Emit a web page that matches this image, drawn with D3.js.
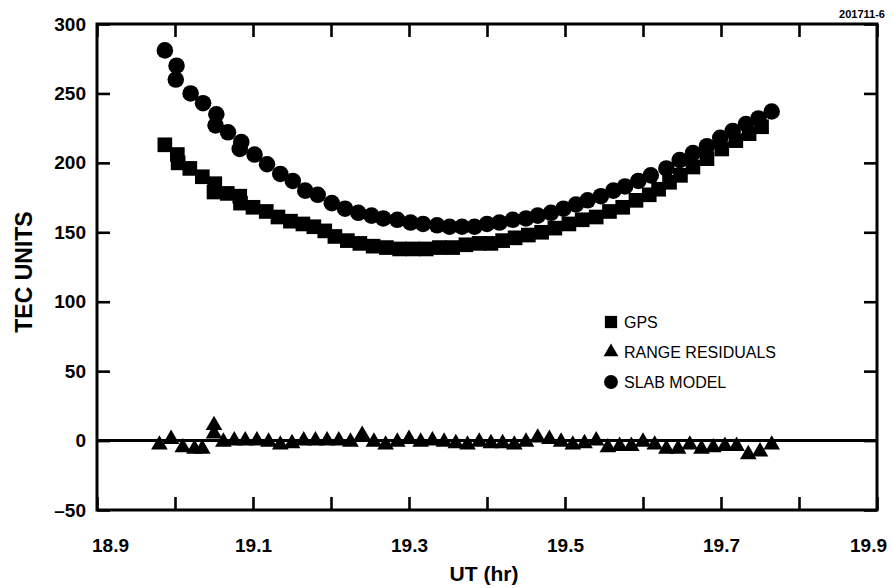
<!DOCTYPE html>
<html><head><meta charset="utf-8">
<script src="https://cdn.jsdelivr.net/npm/d3@7"></script>
<style>body{margin:0;background:#fff} svg{display:block}</style>
</head><body><svg id="c" width="894" height="588"></svg>
<script>
// ---- data ----
const xTickValues = [18.9,19.0,19.1,19.2,19.3,19.4,19.5,19.6,19.7,19.8,19.9];
const xTickLabels = ["18.9","","19.1","","19.3","","19.5","","19.7","","19.9"];
const yTickValues = [-50,0,50,100,150,200,250,300];
const yTickLabels = ["\u201350","0","50","100","150","200","250","300"];

const slabUT  = [18.987,19.002,19.001,19.020,19.036,19.053,19.052,19.068,19.085,19.083,19.102,19.118,19.135,19.151,19.167,19.183,19.201,19.218,19.235,19.252,19.267,19.285,19.302,19.318,19.336,19.352,19.368,19.384,19.400,19.416,19.433,19.450,19.465,19.482,19.498,19.514,19.529,19.546,19.562,19.577,19.594,19.610,19.630,19.647,19.664,19.682,19.699,19.715,19.732,19.748,19.765];
const slabTEC = [281,270,260,250,243,235,227,222,215,210,206,199,192,187,180,177,171,167,164,162,160,159,157,156,155,154,154,154,156,157,159,160,162,164,167,170,173,176,180,183,187,191,196,202,207,212,218,223,228,232,237];

const gpsUT  = [18.987,19.003,19.004,19.019,19.035,19.051,19.050,19.067,19.083,19.084,19.100,19.117,19.132,19.148,19.164,19.178,19.192,19.205,19.221,19.237,19.254,19.271,19.288,19.305,19.322,19.339,19.356,19.373,19.390,19.405,19.420,19.436,19.453,19.470,19.487,19.505,19.522,19.540,19.557,19.574,19.591,19.608,19.620,19.634,19.648,19.664,19.682,19.701,19.719,19.736,19.752];
const gpsTEC = [213,206,200,196,190,185,179,178,176,171,168,165,161,158,156,154,151,147,144,142,140,139,138,138,138,139,139,141,142,142,144,146,148,150,153,156,159,161,165,168,173,177,181,186,191,197,203,210,216,221,226];

const resUT  = [18.980,18.995,19.010,19.025,19.035,19.050,19.050,19.062,19.076,19.090,19.105,19.120,19.135,19.150,19.165,19.180,19.195,19.210,19.225,19.240,19.255,19.270,19.285,19.300,19.315,19.330,19.345,19.360,19.375,19.390,19.405,19.420,19.435,19.450,19.465,19.480,19.495,19.510,19.525,19.540,19.555,19.570,19.585,19.600,19.615,19.630,19.645,19.660,19.675,19.690,19.705,19.720,19.735,19.750,19.765];
const resTEC = [-3,1,-5,-6,-6,11,5,-1,0,0,0,-1,-3,-2,0,0,0,0,-1,4,-1,-3,-1,1,-1,0,-1,-2,-3,-1,-2,-2,-3,-1,2,1,-1,-3,-2,0,-5,-4,-4,-1,-3,-6,-6,-3,-6,-5,-4,-4,-10,-8,-3];

const legendLabels = ["GPS","RANGE RESIDUALS","SLAB MODEL"];

// ---- chart ----
const svg = d3.select("#c");
const L = 97, R = 877, T = 24, B = 510;
const x = d3.scaleLinear().domain([18.9,19.9]).range([L,R]);
const y = d3.scaleLinear().domain([-50,300]).range([B,T]);
const FONT = "'Liberation Sans', Arial, Helvetica, sans-serif";

// axes (inward ticks)
const gB = svg.append("g").attr("transform",`translate(0,${B})`)
  .call(d3.axisBottom(x).tickValues(xTickValues).tickSize(-13).tickSizeOuter(0).tickPadding(29)
    .tickFormat((d,i)=>xTickLabels[i]));
const gT = svg.append("g").attr("transform",`translate(0,${T})`)
  .call(d3.axisTop(x).tickValues(xTickValues).tickSize(-13).tickSizeOuter(0).tickFormat(""));
const gL = svg.append("g").attr("transform",`translate(${L},0)`)
  .call(d3.axisLeft(y).tickValues(yTickValues).tickSize(-13).tickSizeOuter(0).tickPadding(11)
    .tickFormat((d,i)=>yTickLabels[i]));
const gR = svg.append("g").attr("transform",`translate(${R},0)`)
  .call(d3.axisRight(y).tickValues(yTickValues).tickSize(-13).tickSizeOuter(0).tickFormat(""));
[gB,gT,gL,gR].forEach(g=>{
  g.select(".domain").remove();
  g.selectAll(".tick line").attr("stroke","#000").attr("stroke-width",2.6);
  g.selectAll(".tick text").attr("fill","#000").style("font-family",FONT)
    .style("font-weight","bold").style("font-size","19px");
});
gB.selectAll(".tick text").filter((d,i)=>i===0).attr("dx",13);
gB.selectAll(".tick text").filter((d,i)=>i===xTickValues.length-1).attr("dx",-9);

// frame
svg.append("rect").attr("x",L).attr("y",T).attr("width",R-L).attr("height",B-T)
  .attr("fill","none").attr("stroke","#000").attr("stroke-width",3);

// zero line
svg.append("line").attr("x1",L).attr("x2",R).attr("y1",y(0)).attr("y2",y(0))
  .attr("stroke","#000").attr("stroke-width",3);

// markers
const sym = (type,size)=>d3.symbol().type(type).size(size)();
const plot = (xs,ys,type,size)=>{
  svg.append("g").selectAll("path").data(xs.map((v,i)=>[v,ys[i]])).join("path")
    .attr("d",sym(type,size))
    .attr("transform",d=>`translate(${x(d[0])},${y(d[1])})`)
    .attr("fill","#000");
};
plot(gpsUT,gpsTEC,d3.symbolSquare,215);
plot(resUT,resTEC,d3.symbolTriangle,120);
plot(slabUT,slabTEC,d3.symbolCircle,215);

// legend
const legTypes = [[d3.symbolSquare,150],[d3.symbolTriangle,95],[d3.symbolCircle,150]];
legendLabels.forEach((lab,i)=>{
  const yy = 322 + i*30;
  svg.append("path").attr("d",sym(legTypes[i][0],legTypes[i][1]))
    .attr("transform",`translate(611,${yy})`).attr("fill","#000");
  svg.append("text").attr("x",624).attr("y",yy).attr("dy","0.36em")
    .style("font-family",FONT).style("font-size","16px").style("font-weight","500").text(lab);
});

// titles
svg.append("text").attr("x",484).attr("y",581).attr("text-anchor","middle")
  .style("font-family",FONT).style("font-weight","bold").style("font-size","21px").text("UT (hr)");
svg.append("text").attr("transform","translate(32,272) rotate(-90)").attr("text-anchor","middle")
  .style("font-family",FONT).style("font-weight","bold").style("font-size","23px").text("TEC UNITS");
svg.append("text").attr("x",885).attr("y",18).attr("text-anchor","end")
  .style("font-family",FONT).style("font-weight","bold").style("font-size","11px").text("201711-6");
</script></body></html>
